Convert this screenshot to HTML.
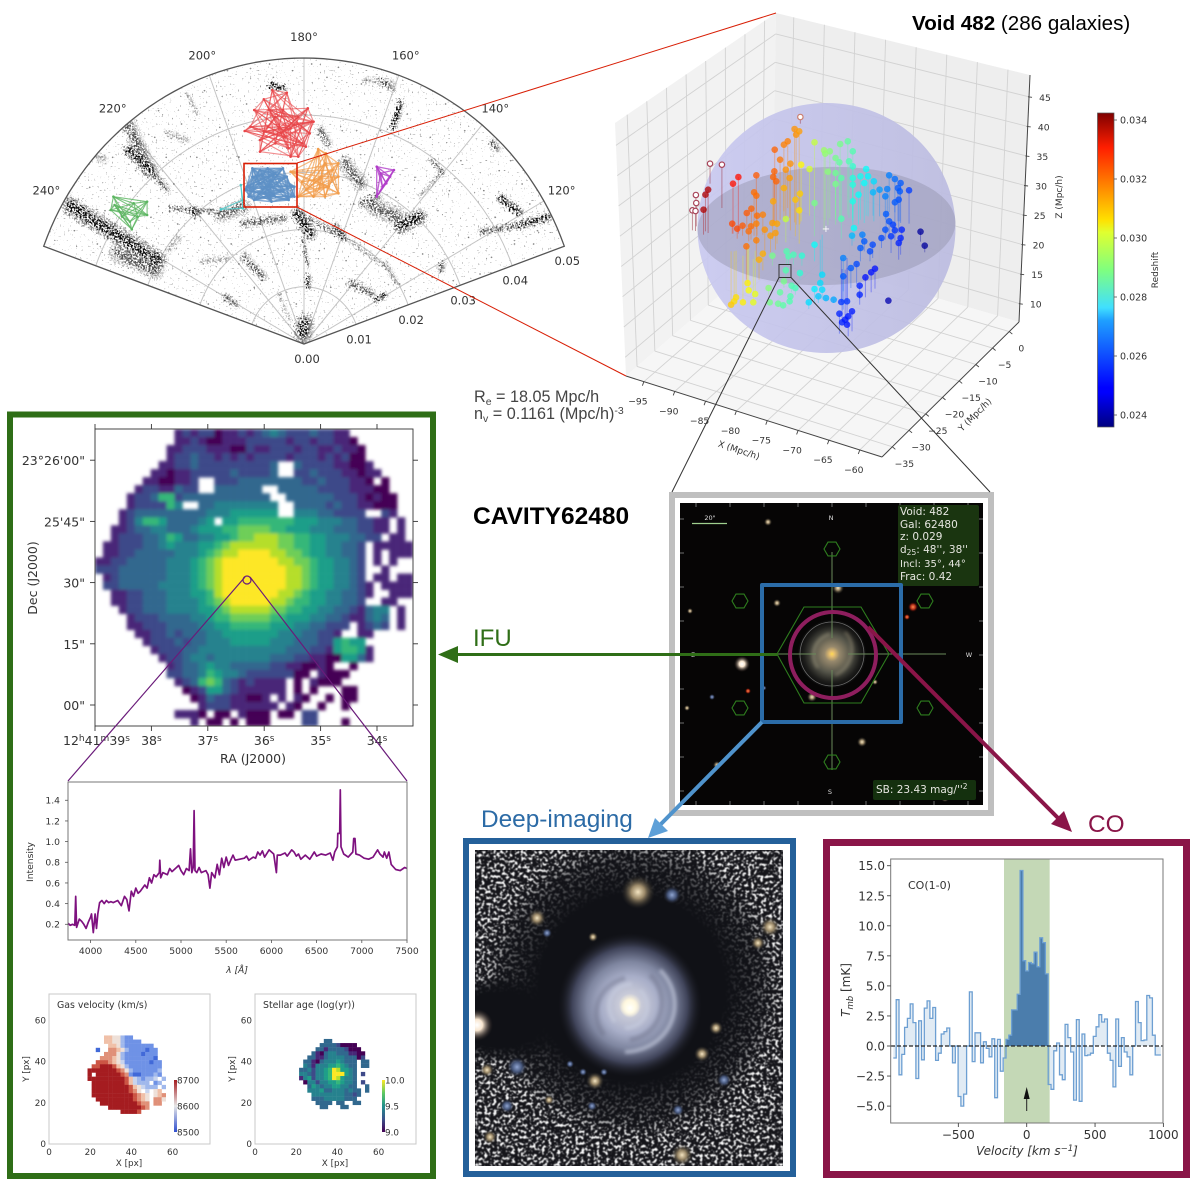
<!DOCTYPE html>
<html lang="en">
<head>
<meta charset="utf-8">
<title>Void 482 CAVITY62480 composite figure</title>
<style>
html,body{margin:0;padding:0;background:#fff;}
svg{display:block;}
text{font-family:"DejaVu Sans",sans-serif;fill:#333;}
</style>
</head>
<body>
<svg id="figure" xmlns="http://www.w3.org/2000/svg" width="1200" height="1190" viewBox="0 0 1200 1190">
<defs>
<linearGradient id="jet-gradient" x1="0" y1="1" x2="0" y2="0">
<stop offset="0" stop-color="#00007f"/><stop offset=".11" stop-color="#0000ff"/><stop offset=".125" stop-color="#0000ff"/><stop offset=".34" stop-color="#1fa0ff"/><stop offset=".38" stop-color="#40dfff"/><stop offset=".5" stop-color="#7fff7f"/><stop offset=".62" stop-color="#e0ff30"/><stop offset=".66" stop-color="#ffe000"/><stop offset=".89" stop-color="#ff1e00"/><stop offset="1" stop-color="#7f0000"/>
</linearGradient>
<linearGradient id="coolwarm-gradient" x1="0" y1="1" x2="0" y2="0">
<stop offset="0" stop-color="#2f4fd0"/><stop offset=".5" stop-color="#e6e6e6"/><stop offset="1" stop-color="#a51c20"/>
</linearGradient>
<linearGradient id="viridis-gradient" x1="0" y1="1" x2="0" y2="0">
<stop offset="0" stop-color="#440154"/><stop offset=".25" stop-color="#3b528b"/><stop offset=".5" stop-color="#21918c"/><stop offset=".75" stop-color="#5ec962"/><stop offset="1" stop-color="#fde725"/>
</linearGradient>
<linearGradient id="sphere-fill" x1="0" y1="0" x2="1" y2="0">
<stop offset="0" stop-color="#c9c9f0"/><stop offset="1" stop-color="#bcbce0"/>
</linearGradient>
<radialGradient id="sdss-galaxy"><stop offset="0" stop-color="#ffdc50"/><stop offset=".07" stop-color="#e8c070"/><stop offset=".22" stop-color="#96886c"/><stop offset=".55" stop-color="#55554a"/><stop offset=".82" stop-color="#1e1e1c"/><stop offset="1" stop-color="#0a0a0a"/></radialGradient>
<radialGradient id="deep-galaxy"><stop offset="0" stop-color="#ffffff"/><stop offset=".07" stop-color="#fff6dc"/><stop offset=".16" stop-color="#c8cad8"/><stop offset=".4" stop-color="#a8aec8"/><stop offset=".6" stop-color="#7f86a0"/><stop offset=".8" stop-color="#40445a"/><stop offset="1" stop-color="#1a1b22" stop-opacity="0"/></radialGradient>
<radialGradient id="deep-nucleus"><stop offset="0" stop-color="#ffffff"/><stop offset=".45" stop-color="#fffbe8"/><stop offset="1" stop-color="#fff6dc" stop-opacity="0"/></radialGradient>
<radialGradient id="dark-hole"><stop offset="0" stop-color="#101116"/><stop offset=".62" stop-color="#101116"/><stop offset=".85" stop-color="#101116" stop-opacity=".65"/><stop offset="1" stop-color="#101116" stop-opacity="0"/></radialGradient>
<radialGradient id="star-tan"><stop offset="0" stop-color="#f4e4c0"/><stop offset=".4" stop-color="#9a8868"/><stop offset="1" stop-color="#2a2824" stop-opacity="0"/></radialGradient>
<radialGradient id="star-blue"><stop offset="0" stop-color="#8fa4d0"/><stop offset=".5" stop-color="#445478"/><stop offset="1" stop-color="#20232e" stop-opacity="0"/></radialGradient>
<radialGradient id="star-white"><stop offset="0" stop-color="#ffffff"/><stop offset=".35" stop-color="#f8e6d0"/><stop offset="1" stop-color="#40302a" stop-opacity="0"/></radialGradient>
<radialGradient id="star-red"><stop offset="0" stop-color="#ff8a50"/><stop offset=".5" stop-color="#b03018"/><stop offset="1" stop-color="#300" stop-opacity="0"/></radialGradient>
<filter id="soft" x="-10%" y="-10%" width="120%" height="120%"><feGaussianBlur stdDeviation="1.5"/></filter>
<filter id="worm" x="0" y="0" width="100%" height="100%" color-interpolation-filters="sRGB">
<feTurbulence type="fractalNoise" baseFrequency="0.33" numOctaves="2" seed="11"/>
<feColorMatrix type="matrix" values="0 0 0 0 1  0 0 0 0 1  0 0 0 0 1  7 0 0 0 -3.6"/>
<feGaussianBlur stdDeviation="0.5"/>
</filter>
<filter id="speckle" x="-5%" y="-5%" width="110%" height="110%" color-interpolation-filters="sRGB">
<feTurbulence type="fractalNoise" baseFrequency="0.55" numOctaves="2" seed="3" result="n"/>
<feDisplacementMap in="SourceGraphic" in2="n" scale="13" xChannelSelector="R" yChannelSelector="G" result="d"/>
<feColorMatrix in="n" type="matrix" values="0 0 0 0 0  0 0 0 0 0  0 0 0 0 0  6 0 0 0 -2.4" result="m"/>
<feComposite in="d" in2="m" operator="in"/>
<feGaussianBlur stdDeviation="0.3"/>
</filter>
<filter id="bg-speck" x="0" y="0" width="100%" height="100%" color-interpolation-filters="sRGB">
<feTurbulence type="fractalNoise" baseFrequency="0.5" numOctaves="2" seed="5" result="n"/>
<feColorMatrix in="n" type="matrix" values="0 0 0 0 0  0 0 0 0 0  0 0 0 0 0  0 16 0 0 -11.3" result="m"/>
<feComposite in="m" in2="SourceAlpha" operator="in"/>
</filter>
<clipPath id="deep-clip"><rect x="475" y="850" width="308" height="316"/></clipPath>
<clipPath id="sdss-clip"><rect x="680" y="503" width="303" height="302"/></clipPath>
<clipPath id="ifu-clip"><rect x="95" y="429" width="318" height="297"/></clipPath>
</defs>

<g id="polar-chart"></g>
<g id="void-3d"></g>
<rect x="244" y="163.5" width="53" height="43.5" fill="none" stroke="#d81e05" stroke-width="1.6"/>
<line x1="297" y1="163" x2="776" y2="13" stroke="#d81e05" stroke-width="1"/>
<line x1="297" y1="207" x2="626" y2="376" stroke="#d81e05" stroke-width="1"/>

<text x="912" y="30" font-size="20.6" style="font-family:'Liberation Sans',sans-serif;fill:#000"><tspan font-weight="bold">Void 482</tspan> (286 galaxies)</text>
<text x="474" y="402" font-size="16.2" style="font-family:'Liberation Sans',sans-serif;fill:#444">R<tspan font-size="10.5" dy="3">e</tspan><tspan dy="-3"> = 18.05 Mpc/h</tspan></text>
<text x="474" y="419" font-size="16.2" style="font-family:'Liberation Sans',sans-serif;fill:#444">n<tspan font-size="10.5" dy="3">v</tspan><tspan dy="-3"> = 0.1161 (Mpc/h)</tspan><tspan font-size="10.5" dy="-5">-3</tspan></text>
<text x="473" y="524" font-size="24.5" font-weight="bold" style="font-family:'Liberation Sans',sans-serif;fill:#000">CAVITY62480</text>
<text x="473" y="646" font-size="24" style="font-family:'Liberation Sans',sans-serif;fill:#2f6e17">IFU</text>
<text x="481" y="827" font-size="24.4" style="font-family:'Liberation Sans',sans-serif;fill:#2c6ba6">Deep-imaging</text>
<text x="1088" y="832" font-size="24.4" style="font-family:'Liberation Sans',sans-serif;fill:#8a1548">CO</text>

<!-- IFU panel -->
<rect x="10" y="414.5" width="423" height="761.5" fill="none" stroke="#2f6e17" stroke-width="6"/>
<g id="ifu-map"></g>
<g id="spectrum-chart"></g>
<g id="gas-map"></g>
<g id="age-map"></g>
<circle cx="247" cy="580" r="4" fill="none" stroke="#6a1b7a" stroke-width="1.2"/>
<line x1="245" y1="577" x2="68" y2="781" stroke="#6a1b7a" stroke-width="1.2"/>
<line x1="250" y1="577" x2="407" y2="781" stroke="#6a1b7a" stroke-width="1.2"/>

<!-- SDSS panel -->
<rect x="672" y="495" width="319" height="318" fill="none" stroke="#bfbfbf" stroke-width="6"/>
<g clip-path="url(#sdss-clip)">
<rect x="680" y="503" width="303" height="302" fill="#060505"/>
<g id="sdss-stars"></g>
<circle cx="832" cy="654" r="34" fill="url(#sdss-galaxy)"/>
<path d="M845 632 C858 645 852 668 835 675 M818 668 C808 655 815 638 830 634" fill="none" stroke="#b4a88a" stroke-width="3" opacity=".4" filter="url(#soft)"/>
<circle cx="832" cy="654" r="32" fill="none" stroke="#6d6d6d" stroke-width=".8"/>
<line x1="832" y1="552" x2="832" y2="638" stroke="#6a8a5a" stroke-width="1"/>
<line x1="832" y1="670" x2="832" y2="770" stroke="#6a8a5a" stroke-width="1"/>
<line x1="848" y1="654" x2="946" y2="654" stroke="#6a8a5a" stroke-width="1"/>
<line x1="693" y1="654" x2="816" y2="654" stroke="#6a8a5a" stroke-width="1"/>
<polygon points="777,654 804,607 861,607 889,654 861,703 804,703" fill="none" stroke="#2e7d1e" stroke-width="1.1"/>
<g id="sdss-hexes"></g>
<rect x="898" y="505" width="81" height="81" rx="2" fill="#1a3510"/>
<rect x="873" y="780" width="103" height="20" rx="2" fill="#14300e"/>
<text x="900" y="515" font-size="10.5" style="fill:#e6e6e0">Void: 482</text>
<text x="900" y="528" font-size="10.5" style="fill:#e6e6e0">Gal: 62480</text>
<text x="900" y="540" font-size="10.5" style="fill:#e6e6e0">z: 0.029</text>
<text x="900" y="553" font-size="10.5" style="fill:#e6e6e0">d<tspan font-size="7.5" dy="2">25</tspan><tspan dy="-2">: 48'', 38''</tspan></text>
<text x="900" y="567" font-size="10" style="fill:#e6e6e0">Incl: 35°, 44°</text>
<text x="900" y="580" font-size="10.5" style="fill:#e6e6e0">Frac: 0.42</text>
<text x="876" y="793" font-size="10.5" style="fill:#e6e6e0">SB: 23.43 mag/''<tspan font-size="7.5" dy="-4">2</tspan></text>
<line x1="692" y1="523.5" x2="727" y2="523.5" stroke="#9fd08f" stroke-width="1.2"/>
<text x="710" y="520" font-size="6.5" text-anchor="middle" style="fill:#ddd">20"</text>
<text x="831" y="520" font-size="6.5" text-anchor="middle" style="fill:#ddd">N</text>
<text x="830" y="794" font-size="6.5" text-anchor="middle" style="fill:#ddd">S</text>
<text x="969" y="657" font-size="6.5" text-anchor="middle" style="fill:#ddd">W</text>
<text x="693" y="657" font-size="6.5" text-anchor="middle" style="fill:#ddd">E</text>
</g>
<rect x="762" y="585" width="139" height="137" fill="none" stroke="#2b6ca8" stroke-width="4" stroke-linejoin="round"/>
<circle cx="833" cy="655" r="43" fill="none" stroke="#8e1e5e" stroke-width="4"/>

<!-- connectors -->
<rect x="779" y="264.5" width="12" height="13" fill="none" stroke="#333" stroke-width="1"/>
<line x1="779" y1="277.5" x2="672" y2="492" stroke="#333" stroke-width="1"/>
<line x1="791" y1="277.5" x2="990" y2="492" stroke="#333" stroke-width="1"/>
<line x1="778" y1="654.5" x2="455" y2="654.5" stroke="#2f6e17" stroke-width="3"/>
<polygon points="438,654.5 458,646 458,663" fill="#2f6e17"/>
<line x1="762" y1="722" x2="657" y2="828" stroke="#4f93cc" stroke-width="4"/>
<polygon points="648,838 655,818 668,831" fill="#5ea0d8"/>
<line x1="868" y1="627" x2="1060" y2="820" stroke="#8a1548" stroke-width="4"/>
<polygon points="1072,832 1051,824 1064,811" fill="#8a1548"/>

<!-- deep imaging panel -->
<rect x="466" y="841" width="327" height="333" fill="none" stroke="#24609a" stroke-width="6"/>
<g clip-path="url(#deep-clip)">
<rect x="475" y="850" width="308" height="316" fill="#15151a"/>
<rect x="475" y="850" width="308" height="316" filter="url(#worm)"/>
<ellipse cx="632" cy="988" rx="150" ry="150" fill="url(#dark-hole)"/>
<ellipse cx="500" cy="1020" rx="70" ry="44" fill="url(#dark-hole)"/>
<g id="deep-stars"></g>
<circle cx="630" cy="1005" r="72" fill="url(#deep-galaxy)"/>
<path d="M650 975 C672 995 662 1035 630 1040 M604 1035 C588 1015 598 985 625 978" fill="none" stroke="#6a6e86" stroke-width="5" opacity=".4" filter="url(#soft)"/>
<path d="M640 990 C655 1005 645 1028 625 1028 M615 1022 C602 1005 612 985 632 984 M660 970 C690 1000 672 1050 625 1052" fill="none" stroke="#c8cee0" stroke-width="4" opacity=".6" filter="url(#soft)"/>
<circle cx="630" cy="1008" r="10" fill="url(#deep-nucleus)"/>
</g>

<!-- CO panel -->
<rect x="826.5" y="842.5" width="360" height="332" fill="none" stroke="#8a1548" stroke-width="7"/>
<g id="co-chart"></g>

<script>
/* ---------- polar cone diagram data ---------- */
var raTicks = [120, 140, 160, 180, 200, 220, 240];
var zTicks = [0, 0.01, 0.02, 0.03, 0.04, 0.05];
var coneU = [-600,-560,-540,-500,-470,-430,-420,-400,-380,-360,-340,-320,-300,-280,-260,-250,-240,-220,-200,-190,-170,-150,-130,-110,-90,-70,-60,-40,-30,-20,20,40,60,70,90,100,110,130,150,160,180,200,210,230,250,270,290,310,330,350,370,390,410,430,450,470,490,510,530,550,570,590,610,630,-610,-580,-520,-440,-390,-330,-270,-210,-170,-120,-80,-10,10,120,175,240,285,335,380,420,460,500,540,600];
var coneV = [340,470,300,560,640,300,170,380,700,560,480,660,220,560,760,120,460,650,820,300,560,720,170,320,840,240,150,300,820,120,840,280,800,170,830,640,250,420,780,330,150,640,290,560,180,690,500,270,620,400,720,190,550,320,680,460,260,520,620,300,480,420,340,430,420,520,400,520,620,360,320,200,240,280,800,640,520,720,500,440,330,200,460,640,210,380,550,300];
var filU0 = [-605,-465,-455,-395,-620,-485,-345,-290,-155,-215,-15,5,105,110,255,165,255,185,515,570,465,335,305,5,13,-205,125,190,-155,-265,-350,-85,45,495,365,85,0,155,-535,-355,-305,205,-65,215];
var filV0 = [412,682,582,517,442,272,407,402,362,387,392,382,322,542,722,792,352,412,437,357,337,552,442,62,202,142,182,132,262,247,282,777,642,602,242,352,317,422,562,632,752,792,152,242];
var filU1 = [-380,-400,-400,-355,-580,-385,-235,-280,-50,-155,20,105,215,150,235,235,305,245,565,640,570,365,365,0,13,-175,180,215,-105,-195,-325,-50,65,505,360,105,13,195,-520,-305,-275,235,-35,245];
var filV1 = [252,522,522,462,392,222,397,392,377,412,332,322,232,482,647,782,382,382,397,382,357,512,522,32,172,117,152,147,202,257,317,767,602,587,222,322,232,442,552,612,692,762,72,182];
var filWidth = [30,25,20,12,14,30,10,16,15,25,22,10,8,25,12,12,25,30,15,15,12,8,8,30,10,12,15,10,15,10,12,12,15,15,12,15,6,14,15,12,8,10,6,10];
var filDensity = [2,1,2,1,0,1,1,2,1,1,2,1,0,1,2,0,2,1,2,2,1,1,0,2,2,1,1,2,1,0,0,2,1,1,1,1,1,1,0,0,0,1,0,0];
var redNetU = [-83,-45,-105,-130,10,25,-155,-140,-95,-60,-25,15,20,-115,-115,-75,-40,-5,-35,-15,5,-50,-75,-15,-90,-55,-105,-35];
var redNetV = [762,754,734,702,707,667,639,652,652,632,657,632,667,612,577,602,587,602,562,562,592,622,682,682,702,702,637,647];
var blueNetU = [-135,-95,-55,-150,-145,-130,-85,-25,-25,-115,-75,-105,-55,-135,-45,-95,-75,-115,-155,-40];
var blueNetV = [527,527,527,472,442,432,427,442,472,482,512,452,457,502,502,472,442,522,462,432];
var orangeNetU = [37,57,55,90,90,90,-15,-5,-35,25,55,45,25,65,5,75,40];
var orangeNetV = [585,572,542,542,502,452,442,487,517,442,442,502,492,472,462,522,467];
var greenNetU = [-498,-505,-450,-410,-410,-495,-475,-445,-435,-455];
var greenNetV = [442,402,344,427,387,417,382,422,382,367];
var magentaNetU = [190,235,225,190,205,200,215];
var magentaNetV = [532,522,502,442,472,512,482];
var cyanNetU = [-217,-160,-165,-160];
var cyanNetV = [404,432,477,407];

/* ---------- 3D void data ---------- */
var xTicks3d = [-95,-90,-85,-80,-75,-70,-65,-60];
var yTicks3d = [-35,-30,-25,-20,-15,-10,-5,0];
var zTicks3d = [10,15,20,25,30,35,40,45];
var colorbarTicks = [0.024,0.026,0.028,0.030,0.032,0.034];
/* galaxy offsets from the void centre on the view plane, redshift and stem length */
var voidU = [-308,-315,-320,-243,-229,
-134,-182,-135,-138,-130,-120,-110,-100,-82,-78,-70,-93,-105,-95,
-188,-182,-207,-195,-180,-165,-245,-232,-218,-196,-202,-182,-160,-140,-128,-132,-145,-182,-208,
-110,-138,-80,-68,-70,-165,-175,-65,-43,
-30,-5,10,-2,37,57,70,25,35,60,70,5,25,40,-30,-105,40,25,
70,105,90,110,100,125,70,85,70,73,
165,180,195,188,193,217,160,140,123,155,190,180,157,165,175,180,198,155,68,95,100,90,122,115,145,170,195,190,
247,258,163,
128,118,103,88,88,65,80,45,45,55,40,68,35,58,42,55,50,
-30,-10,-15,-10,-30,-45,-20,0,20,
-103,-98,-85,-63,-140,-105,-68,-110,-90,-80,-150,-120,-93,-95,-125,-112,-147,
-205,-185,-235,-240,-248,-217,-190,-202];
var voidV = [115,100,55,133,153,
235,158,170,153,140,205,250,260,297,280,290,193,175,150,
107,97,45,58,37,40,13,-2,7,5,-10,13,-5,15,13,-15,-23,-37,-55,
120,80,85,103,53,-77,-95,190,177,
257,233,230,223,252,260,230,210,197,200,185,169,165,150,75,27,28,132,
150,177,155,155,135,140,130,100,80,0,
158,147,135,120,110,113,117,115,107,95,85,77,42,20,10,-7,-5,-5,-23,-20,-40,-60,-50,-70,-30,-25,-30,-45,
-11,-53,-218,
-122,-133,-148,-173,-200,-120,-108,-90,-145,-220,-222,-250,-257,-265,-283,-290,-275,
-50,-140,-165,-185,-183,-223,-205,-210,-215,
-70,-85,-80,-83,-83,-127,-135,-160,-173,-180,-180,-193,-205,-220,-227,-232,-223,
-165,-198,-208,-220,-230,-223,-223,-187];
var voidRedshift = [0.0338,0.0338,0.0338,0.0328,0.0328,
0.0319,0.0320,0.0319,0.0319,0.0319,0.0317,0.0316,0.0316,0.0314,0.0314,0.0313,0.0314,0.0314,0.0313,
0.0318,0.0318,0.0320,0.0319,0.0318,0.0316,0.0322,0.0322,0.0320,0.0318,0.0318,0.0316,0.0314,0.0313,0.0312,0.0313,0.0313,0.0316,0.0318,
0.0311,0.0312,0.0309,0.0308,0.0306,0.0311,0.0311,0.0303,0.0298,
0.0296,0.0292,0.0290,0.0291,0.0288,0.0286,0.0284,0.0288,0.0286,0.0284,0.0281,0.0290,0.0287,0.0285,0.0288,0.0296,0.0284,0.0288,
0.0279,0.0276,0.0277,0.0275,0.0276,0.0272,0.0279,0.0276,0.0278,0.0276,
0.0262,0.0260,0.0258,0.0258,0.0258,0.0255,0.0262,0.0265,0.0268,0.0262,0.0257,0.0258,0.0258,0.0257,0.0255,0.0254,0.0252,0.0257,0.0268,0.0262,0.0258,0.0258,0.0256,0.0256,0.0256,0.0254,0.0252,0.0252,
0.0238,0.0238,0.0240,
0.0250,0.0250,0.0250,0.0252,0.0252,0.0258,0.0256,0.0262,0.0258,0.0254,0.0254,0.0251,0.0252,0.0251,0.0252,0.0251,0.0251,
0.0276,0.0272,0.0272,0.0272,0.0274,0.0272,0.0270,0.0268,0.0266,
0.0284,0.0284,0.0283,0.0280,0.0288,0.0284,0.0280,0.0288,0.0284,0.0283,0.0290,0.0286,0.0284,0.0284,0.0287,0.0285,0.0288,
0.0304,0.0300,0.0306,0.0306,0.0308,0.0304,0.0300,0.0302];
var voidDrop = [130,110,75,150,170,
150,130,160,140,130,180,200,200,280,270,280,200,150,120,
130,100,50,60,60,60,30,30,30,40,30,60,80,50,60,50,50,60,100,
100,60,110,90,100,50,60,170,140,
200,240,200,200,220,220,180,200,180,170,160,160,140,120,100,70,60,100,
130,140,130,120,120,120,100,90,70,40,
110,100,120,100,90,100,80,80,70,70,100,90,60,50,40,30,40,30,30,40,30,40,40,30,30,50,50,50,
30,20,0,
60,60,60,40,30,60,60,100,100,-130,-130,60,60,60,-160,-170,-150,
50,-120,-130,30,40,20,20,10,10,
40,30,30,30,30,20,20,20,20,20,20,10,10,10,10,10,10,
-120,-130,-140,-150,-160,-140,-130,-130];
var ringU = [-303,-272,-340,-339,-349,-341,-67];
var ringV = [193,190,99,75,53,51,333];
var ringDrop = [60,130,50,70,60,60,20];

/* ---------- IFU flux map (viridis level per spaxel, "." = no data) ---------- */
var ifuRows = [
"..........1212201121234322232211........",
"..........11210011122222122122110.......",
".........1122211100211222122112110......",
".........1223221212122221222121200......",
"........112232222222223..3222211001.....",
".......1101122222322223..22322211011....",
"......1100112..22233333333223222110.0...",
".....12211322..333333..33333222211100...",
"....122366233333333333..33333322210100..",
"....1222264..3344444444..3333232211000..",
"...12333333333444555555..444332222..21..",
"...124665333345.556666666555444332211.1.",
"..11233443334555667777665554443332211.1.",
"..1222334653344556778887766554443322.11.",
".112223345444556788888877665544332.11111",
".112233333444567889999887765544332.1.111",
"1122333334445678999999988776554432.1.1..",
"2223333334445678999999998876554432..1...",
".123333334445678999999998876554432.11.11",
".2233333444456789999999988765544321.1111",
"..112233344455689999999887655443321..111",
"..11223334444567899999887665544332..11..",
"...1223334444556788888776655443321344.1.",
"....122233334456677777665554433211343.1.",
"....1122233334455666665554433222.1232.1.",
".....11223233344555555544433221..11.....",
"......1222323344455555444333225655......",
".......1222334444444444433322156651.....",
"........122344344444443332211005531.....",
".........123345443333322110010..0.......",
".........223346544322222200.1000........",
"..........12367632121111.0.1000.........",
"...........0125532111111.0.0...00.......",
"............0132211001.1.10..0.00.......",
".............1222111111.10..0..0........",
"..........1110.00.1000.00.22............",
"............1.00.0.000....22...0........"
];

/* ---------- optical spectrum data ---------- */
var specWave = [3750,3775,3800,3825,3835,3845,3875,3900,3925,3950,3975,4000,4010,4030,4050,4065,4080,4100,4125,4150,4175,4200,4225,4250,4300,4340,4375,4400,4425,4450,4475,4500,4525,4550,4600,4625,4650,4675,4700,4725,4760,4765,4775,4800,4850,4875,4900,4950,4975,5000,5030,5060,5090,5105,5120,5135,5145,5155,5175,5200,5225,5275,5300,5320,5340,5375,5400,5425,5450,5475,5500,5525,5550,5575,5600,5650,5700,5725,5750,5800,5825,5850,5875,5900,5925,5975,6025,6055,6065,6100,6150,6175,6225,6250,6275,6300,6325,6375,6425,6475,6500,6550,6600,6650,6680,6700,6730,6735,6755,6762,6770,6800,6850,6900,6910,6925,6935,6975,7025,7075,7125,7175,7200,7235,7250,7275,7300,7325,7375,7425,7475,7500];
var specFlux = [0.21,0.19,0.20,0.19,0.47,0.17,0.25,0.23,0.20,0.16,0.22,0.27,0.30,0.12,0.30,0.16,0.30,0.41,0.43,0.40,0.43,0.41,0.42,0.41,0.43,0.38,0.47,0.44,0.33,0.52,0.47,0.55,0.50,0.52,0.58,0.55,0.65,0.60,0.68,0.66,0.70,0.82,0.65,0.70,0.68,0.74,0.71,0.75,0.77,0.72,0.68,0.74,0.72,0.93,0.70,0.75,1.30,0.72,0.70,0.75,0.70,0.72,0.68,0.55,0.70,0.65,0.78,0.68,0.84,0.75,0.85,0.77,0.82,0.87,0.82,0.83,0.84,0.86,0.82,0.85,0.84,0.90,0.87,0.91,0.85,0.92,0.88,0.70,0.87,0.87,0.89,0.86,0.92,0.90,0.86,0.88,0.83,0.87,0.83,0.90,0.86,0.88,0.87,0.89,0.82,0.90,0.95,1.08,1.08,1.50,0.95,0.88,0.85,0.90,1.03,1.03,0.88,0.87,0.84,0.83,0.85,0.92,0.88,0.85,0.90,0.84,0.90,0.78,0.73,0.72,0.75,0.74];
var specXTicks = [4000,4500,5000,5500,6000,6500,7000,7500];
var specYTicks = [0.2,0.4,0.6,0.8,1.0,1.2,1.4];

/* ---------- kinematic maps (level per spaxel) ---------- */
var gasRows = [
".....6655322........",
".....665532222......",
"......66532222222...",
"...1..776532222122..",
".....7775322221222..",
"....77765322222221..",
"...8887654222222122.",
"..88999865322222222.",
".999999987532222223..",
".9.9999998721122232.",
".99999999986432334.3",
"..99999999864333.23.",
"..9999999998654333.3",
"..999999999875.4.56.",
"..99999999998765.567",
"...9999999998765.775",
"....999999999877.77.",
"......9999999987....",
".........99998......"
];
var ageRows = [
"......33.........",
".....333320000...",
"....33133332000..",
"...3103443331100.",
"..33113444433302.",
".3310344454333.33",
".4314445565433.33",
"33424456985543...",
"44324456999543.2.",
"14524456985443...",
".0442445565443.2.",
"..354344554433..3",
"..4445334443433.3",
"...444444443323..",
"...33344444333...",
"....3333.33..33..",
".....33...33....."
];
var mapTicksX = [0,20,40,60];
var mapTicksY = [0,20,40,60];

/* ---------- CO spectrum data ---------- */
var coTmb = [-1.0,3.85,-2.4,-0.7,1.55,2.3,3.5,1.95,-2.7,2.1,-1.15,3.15,3.75,2.3,3.2,-1.2,-0.6,1.0,1.2,1.5,0.0,-1.4,0.0,-4.2,-5.0,-4.0,0.0,4.5,-1.3,1.1,1.1,-1.4,0.35,-0.2,-0.9,0.6,-4.3,0.55,-2.1,-1.0,0.55,0.9,3.0,3.0,4.3,14.6,7.1,6.25,6.95,6.85,7.8,6.6,9.0,8.6,6.0,-3.2,-3.6,-0.4,0.25,-2.4,-2.8,1.8,0.7,-0.5,-4.5,2.2,-4.6,1.0,-0.8,-0.75,-0.6,0.8,1.6,2.6,2.0,2.25,-0.6,-1.2,-3.4,2.25,-1.7,0.7,-0.5,-0.9,-2.4,0.0,3.7,1.95,0.45,0.5,4.2,4.0,0.9,-0.75,-0.75];
var coVelocityStart = -975.6;
var coChannelWidth = 20.6;
var coBand = [-166, 168];
var coXTicks = [-500,0,500,1000];
var coYTicks = [-5,-2.5,0,2.5,5,7.5,10,12.5,15];

/* ---------- helpers ---------- */
var NS = "http://www.w3.org/2000/svg";
function add(parent, tag, attrs, txt) {
  var e = document.createElementNS(NS, tag);
  for (var k in attrs) e.setAttribute(k, attrs[k]);
  if (txt !== undefined) e.textContent = txt;
  parent.appendChild(e);
  return e;
}
function byId(id) { return document.getElementById(id); }
function minus(s) { return String(s).replace("-", "\u2212"); }
var viridis = ["#440154","#482878","#3e4a89","#31688e","#26828e","#1f9e89","#35b779","#6ece58","#b5de2b","#fde725"];
var coolwarm = ["#2f4fd0","#4169d8","#6f92e6","#a0b8ec","#c8d4ee","#eee0d8","#f0c0a8","#e09078","#cc5544","#a51c20"];
function jet(t) {
  function cl(v) { return Math.max(0, Math.min(1, v)); }
  var r = cl(1.5 - Math.abs(4 * t - 3)), g = cl(1.5 - Math.abs(4 * t - 2)), b = cl(1.5 - Math.abs(4 * t - 1));
  return "rgb(" + Math.round(r * 255) + "," + Math.round(g * 255) + "," + Math.round(b * 255) + ")";
}

/* ---------- polar cone diagram ---------- */
(function () {
  var g = byId("polar-chart");
  function px(ra, z) { return 304 + 277 * (z / 0.05) * Math.sin((180 - ra) * Math.PI / 180); }
  function py(ra, z) { return 344 - 286 * (z / 0.05) * Math.cos((180 - ra) * Math.PI / 180); }
  function cx(u) { return 304 + u * 0.3827; }
  function cy(v) { return 344 - v / 3; }
  function arc(z) {
    var d = "";
    for (var a = 110; a <= 250; a += 2) d += (d ? "L" : "M") + px(a, z).toFixed(1) + " " + py(a, z).toFixed(1);
    return d;
  }
  var wedge = "M304 344L" + arc(0.05).slice(1) + "Z";
  var clip = add(g, "clipPath", { id: "wedge-clip" });
  add(clip, "path", { d: wedge });
  var sparse = add(g, "path", { d: wedge, fill: "#000", filter: "url(#bg-speck)", opacity: 0.4 });
  
  
  var grid = add(g, "g", {});
  zTicks.slice(1, 5).forEach(function (z) {
    var a = add(grid, "path", { d: arc(z), fill: "none", stroke: "#c4c4c4", "stroke-width": 1 });
    
    
  });
  raTicks.forEach(function (ra) {
    var l = add(grid, "line", { x1: 304, y1: 344, x2: px(ra, 0.05), y2: py(ra, 0.05), stroke: "#c4c4c4", "stroke-width": 1 });
    
    
    var t = add(g, "text", { x: px(ra, 0.0537), y: py(ra, 0.0537) + 4, "text-anchor": "middle", "font-size": 11.5 }, ra + "\u00b0");
    
    
  });
  zTicks.forEach(function (z) {
    var t = add(g, "text", { x: px(110, z) + 3, y: py(110, z) + 19, "text-anchor": "middle", "font-size": 11.5 }, z.toFixed(2));
    
    
  });
  var inner = add(g, "g", { "clip-path": "url(#wedge-clip)" });
  var speck = add(inner, "g", { filter: "url(#speckle)" });
  
  
  filU0.forEach(function (u0, i) {
    var shade = add(speck, "line", { x1: cx(u0), y1: cy(filV0[i]), x2: cx(filU1[i]), y2: cy(filV1[i]), stroke: "#000", "stroke-opacity": [0.14, 0.26, 0.42][filDensity[i]], "stroke-width": filWidth[i] * 0.62, "stroke-linecap": "round" });
    
    
    var f = add(speck, "line", { x1: cx(u0), y1: cy(filV0[i]), x2: cx(filU1[i]), y2: cy(filV1[i]), stroke: "#000", "stroke-opacity": [0.3, 0.55, 0.95][filDensity[i]], "stroke-width": filWidth[i] * 0.3, "stroke-linecap": "round" });
    
    
  });
  coneU.forEach(function (u, i) {
    var c = add(inner, "circle", { cx: cx(u), cy: cy(coneV[i]), r: 0.85, fill: "#000", "fill-opacity": 0.45 });
    
    
  });
  var outline = add(g, "path", { d: wedge, fill: "none", stroke: "#555", "stroke-width": 1.3 });
  
  
  function net(us, vs, color, steps, w, op, name) {
    var n = us.length;
    var grp = add(g, "g", {});
    
    
    for (var i = 0; i < n; i++) {
      for (var s = 0; s < steps.length; s++) {
        var j = (i + steps[s]) % n;
        var ln = add(grp, "line", { x1: cx(us[i]), y1: cy(vs[i]), x2: cx(us[j]), y2: cy(vs[j]), stroke: color, "stroke-width": w, "stroke-opacity": op });
        
        
      }
      var d = add(grp, "circle", { cx: cx(us[i]), cy: cy(vs[i]), r: 1.3, fill: color });
      
      
    }
  }
  net(cyanNetU, cyanNetV, "#4fc9c9", [1], 1.1, 0.85, "cyan-void-network");
  net(redNetU, redNetV, "#e8474a", [1, 5, 9, 14], 1.1, 0.62, "red-void-network");
  net(blueNetU, blueNetV, "#5d90c6", [1, 3, 5, 7, 9], 1.5, 0.75, "blue-void-network");
  net(orangeNetU, orangeNetV, "#f29d4b", [1, 3, 5, 7], 1.2, 0.7, "orange-void-network");
  net(greenNetU, greenNetV, "#5bb560", [1, 3, 4], 1.1, 0.8, "green-void-network");
  net(magentaNetU, magentaNetV, "#b23ec9", [1, 2, 3], 1.3, 0.8, "magenta-void-network");
})();

/* ---------- 3D void ---------- */
(function () {
  var g = byId("void-3d");
  var x0 = -97.9, x1 = -56.4, y0 = -38.1, y1 = 2.9, z0 = 6.9, z1 = 48.7;
  var B00 = [626, 376], B10 = [882, 457], B11 = [1019, 322], B01 = [772, 250];
  var T00 = [615, 123], T10 = [869, 185], T11 = [1030, 75], T01 = [776, 13];
  function bil(p00, p10, p11, p01, a, b, k) {
    return (1 - a) * (1 - b) * p00[k] + a * (1 - b) * p10[k] + a * b * p11[k] + (1 - a) * b * p01[k];
  }
  function project(x, y, z) {
    var a = (x - x0) / (x1 - x0), b = (y - y0) / (y1 - y0), c = (z - z0) / (z1 - z0);
    return [
      (1 - c) * bil(B00, B10, B11, B01, a, b, 0) + c * bil(T00, T10, T11, T01, a, b, 0),
      (1 - c) * bil(B00, B10, B11, B01, a, b, 1) + c * bil(T00, T10, T11, T01, a, b, 1)
    ];
  }
  function poly(pts, fill, name) {
    var p = add(g, "polygon", { points: pts.map(function (q) { return q.join(","); }).join(" "), fill: fill });
    
    
  }
  poly([B00, B01, T01, T00], "#f2f2f2", "left-wall-pane");
  poly([B01, B11, T11, T01], "#eeeeee", "right-wall-pane");
  poly([B00, B10, B11, B01], "#f6f6f6", "floor-pane");
  function grid(a, b) {
    var l = add(g, "line", { x1: a[0], y1: a[1], x2: b[0], y2: b[1], stroke: "#d2d2d2", "stroke-width": 0.9 });
    
    
  }
  zTicks3d.forEach(function (z) {
    grid(project(x0, y0, z), project(x0, y1, z));
    grid(project(x0, y1, z), project(x1, y1, z));
  });
  xTicks3d.forEach(function (x) {
    grid(project(x, y1, z0), project(x, y1, z1));
    grid(project(x, y0, z0), project(x, y1, z0));
  });
  yTicks3d.forEach(function (y) {
    grid(project(x0, y, z0), project(x0, y, z1));
    grid(project(x0, y, z0), project(x1, y, z0));
  });
  function axis(a, b, name) {
    var l = add(g, "line", { x1: a[0], y1: a[1], x2: b[0], y2: b[1], stroke: "#444", "stroke-width": 1 });
    
    
  }
  axis(B00, B10, "x-axis-line");
  axis(B10, B11, "y-axis-line");
  axis(B11, T11, "z-axis-line");
  function tickLabel(p, dx, dy, str, name) {
    var t = add(g, "text", { x: p[0] + dx, y: p[1] + dy + 3, "text-anchor": "middle", "font-size": 9.2 }, str);
    
    
  }
  xTicks3d.forEach(function (x) {
    var p = project(x, y0, z0);
    var m = add(g, "line", { x1: p[0], y1: p[1], x2: p[0] - 1.5, y2: p[1] + 4, stroke: "#444", "stroke-width": 0.9 });
    
    
    tickLabel(p, -6, 20, minus(x), "x-tick-label");
  });
  yTicks3d.forEach(function (y) {
    var p = project(x1, y, z0);
    var m = add(g, "line", { x1: p[0], y1: p[1], x2: p[0] + 3, y2: p[1] + 2.5, stroke: "#444", "stroke-width": 0.9 });
    
    
    tickLabel(p, 12, 17, minus(y), "y-tick-label");
  });
  zTicks3d.forEach(function (z) {
    var p = project(x1, y1, z);
    var m = add(g, "line", { x1: p[0] - 1, y1: p[1], x2: p[0] + 3, y2: p[1] + 0.5, stroke: "#444", "stroke-width": 0.9 });
    
    
    tickLabel(p, 16, 1, String(z), "z-tick-label");
  });
  var lx = add(g, "text", { transform: "translate(738 453) rotate(18)", "text-anchor": "middle", "font-size": 9 }, "X (Mpc/h)");
  
  
  var ly = add(g, "text", { transform: "translate(977 417) rotate(-45)", "text-anchor": "middle", "font-size": 9 }, "Y (Mpc/h)");
  
  
  var lz = add(g, "text", { transform: "translate(1062 197) rotate(-90)", "text-anchor": "middle", "font-size": 9 }, "Z (Mpc/h)");
  
  

  var sphere = add(g, "ellipse", { cx: 826.5, cy: 228, rx: 129, ry: 125, fill: "url(#sphere-fill)", "fill-opacity": 0.92 });
  
  
  var eq = add(g, "ellipse", { cx: 826.5, cy: 226, rx: 129, ry: 59, transform: "rotate(-2 826.5 226)", fill: "#8f8fa8", "fill-opacity": 0.42 });
  
  

  function sx(u) { return 826 + u * 0.3827; }
  function sy(v) { return 228 - v / 3; }
  function zColor(z) { return jet((z - 0.0235) / (0.0343 - 0.0235)); }
  voidU.forEach(function (u, i) {
    var col = zColor(voidRedshift[i]);
    if (voidDrop[i] !== 0) {
      var s = add(g, "line", { x1: sx(u), y1: sy(voidV[i]), x2: sx(u), y2: sy(voidV[i] - voidDrop[i]), stroke: col, "stroke-width": 1, "stroke-opacity": 0.35 });
      
      
    }
  });
  voidU.forEach(function (u, i) {
    var c = add(g, "circle", { cx: sx(u), cy: sy(voidV[i]), r: 3.3, fill: zColor(voidRedshift[i]), "fill-opacity": 0.76 });
    
    
  });
  ringU.forEach(function (u, i) {
    var s = add(g, "line", { x1: sx(u), y1: sy(ringV[i]), x2: sx(u), y2: sy(ringV[i] - ringDrop[i]), stroke: "#a04050", "stroke-width": 1, "stroke-opacity": 0.55 });
    
    
    var c = add(g, "circle", { cx: sx(u), cy: sy(ringV[i]), r: 2.7, fill: "#fff", stroke: i === 6 ? "#cc7f6f" : "#a8455a", "stroke-width": 1.2 });
    
    
  });
  var plus = add(g, "text", { x: 826, y: 232, "text-anchor": "middle", "font-size": 10, style: "fill:#fff" }, "+");
  
  

  var bar = add(g, "rect", { x: 1097.5, y: 113, width: 16.5, height: 314, fill: "url(#jet-gradient)", stroke: "#555", "stroke-width": 0.7 });
  
  
  colorbarTicks.forEach(function (z) {
    var y = 415 - (z - 0.024) / 0.002 * 59;
    var t = add(g, "text", { x: 1120, y: y + 3.5, "font-size": 9.5 }, z.toFixed(3));
    
    
    var m = add(g, "line", { x1: 1114, y1: y, x2: 1117, y2: y, stroke: "#555", "stroke-width": 0.8 });
    
    
  });
  var cbl = add(g, "text", { transform: "translate(1158 270) rotate(-90)", "text-anchor": "middle", "font-size": 9 }, "Redshift");
  
  
})();

/* ---------- IFU map ---------- */
(function () {
  var g = byId("ifu-map");
  var cells = add(g, "g", { filter: "url(#soft)", "clip-path": "url(#ifu-clip)" });
  
  
  var cs = 7.95, rs = 8.03;
  ifuRows.forEach(function (row, r) {
    for (var c = 0; c < row.length; c++) {
      var ch = row.charAt(c);
      if (ch === ".") continue;
      var e = add(cells, "rect", { x: 95 + c * cs, y: 429 + r * rs, width: cs + 0.3, height: rs + 0.3, fill: viridis[+ch] });
      
      
    }
  });
  var frame = add(g, "rect", { x: 95, y: 429, width: 318, height: 297, fill: "none", stroke: "#333", "stroke-width": 0.9 });
  
  
  var raSeconds = [39, 38, 37, 36, 35, 34];
  var decSeconds = [60, 45, 30, 15, 0];
  var decLabels = ["23\u00b026'00\"", "25'45\"", "30\"", "15\"", "00\""];
  function rx(s) { return 95 + (39 - s) * 56.4; }
  raSeconds.forEach(function (s) {
    [[429, 424], [726, 731]].forEach(function (yy) {
      var m = add(g, "line", { x1: rx(s), x2: rx(s), y1: yy[0], y2: yy[1], stroke: "#333", "stroke-width": 0.9 });
      
      
    });
    var t = add(g, "text", { x: rx(s) + (s === 39 ? -32 : 0), y: 745, "font-size": 12.5, "text-anchor": s === 39 ? "start" : "middle" });
    
    
    if (s === 39) {
      t.appendChild(document.createTextNode("12"));
      add(t, "tspan", { "font-size": 9, dy: -4 }, "h");
      add(t, "tspan", { dy: 4 }, "41");
      add(t, "tspan", { "font-size": 9, dy: -4 }, "m");
      add(t, "tspan", { dy: 4 }, "39");
      add(t, "tspan", { "font-size": 9, dy: -4 }, "s");
    } else {
      t.appendChild(document.createTextNode(String(s)));
      add(t, "tspan", { "font-size": 9, dy: -4 }, "s");
    }
  });
  decSeconds.forEach(function (d, i) {
    var y = 705 - d * (61.2 / 15);
    [[95, 90], [413, 418]].forEach(function (xx) {
      var m = add(g, "line", { x1: xx[0], x2: xx[1], y1: y, y2: y, stroke: "#333", "stroke-width": 0.9 });
      
      
    });
    var t = add(g, "text", { x: 85, y: y + 5, "font-size": 12.5, "text-anchor": "end" }, decLabels[i]);
    
    
  });
  var xl = add(g, "text", { x: 253, y: 763, "font-size": 12.5, "text-anchor": "middle" }, "RA (J2000)");
  
  
  var yl = add(g, "text", { transform: "translate(37 578) rotate(-90)", "font-size": 12.5, "text-anchor": "middle" }, "Dec (J2000)");
  
  
})();

/* ---------- optical spectrum ---------- */
(function () {
  var g = byId("spectrum-chart");
  function x(w) { return 68 + (w - 3750) / 3750 * 339; }
  function y(f) { return 924.3 - (f - 0.2) / 0.2 * 20.67; }
  var d = "";
  specWave.forEach(function (w, i) { d += (i ? "L" : "M") + x(w).toFixed(1) + " " + y(specFlux[i]).toFixed(1); });
  var line = add(g, "path", { d: d, fill: "none", stroke: "#7e117f", "stroke-width": 1.7, "stroke-linejoin": "round" });
  
  
  var frame = add(g, "rect", { x: 68, y: 782, width: 339, height: 158, fill: "none", stroke: "#777", "stroke-width": 1 });
  
  
  specXTicks.forEach(function (w) {
    var m = add(g, "line", { x1: x(w), x2: x(w), y1: 940, y2: 943, stroke: "#555", "stroke-width": 0.8 });
    
    
    var t = add(g, "text", { x: x(w), y: 954, "font-size": 9.2, "text-anchor": "middle" }, String(w));
    
    
  });
  specYTicks.forEach(function (f) {
    var m = add(g, "line", { x1: 65, x2: 68, y1: y(f), y2: y(f), stroke: "#555", "stroke-width": 0.8 });
    
    
    var t = add(g, "text", { x: 60, y: y(f) + 3.3, "font-size": 9.2, "text-anchor": "end" }, f.toFixed(1));
    
    
  });
  var xl = add(g, "text", { x: 237, y: 973, "font-size": 9.2, "text-anchor": "middle", "font-style": "italic" }, "\u03bb [\u00c5]");
  
  
  var yl = add(g, "text", { transform: "translate(33 862) rotate(-90)", "font-size": 9.2, "text-anchor": "middle" }, "Intensity");
  
  
})();

/* ---------- kinematic maps ---------- */
function drawMap(g, rows, palette, left, xStart, yTop, title, ylab, cbX, cbFill, cbLabels) {
  var sc = 2.06;
  function x(u) { return left + u * sc; }
  function y(v) { return 1144 - v * sc; }
  rows.forEach(function (row, r) {
    for (var c = 0; c < row.length; c++) {
      var ch = row.charAt(c);
      if (ch === ".") continue;
      var e = add(g, "rect", { x: x(xStart + 2 * c), y: y(yTop - 2 * r), width: 2 * sc + 0.2, height: 2 * sc + 0.2, fill: palette[+ch] });
      
      
    }
  });
  var frame = add(g, "rect", { x: left, y: 994, width: 161, height: 150, fill: "none", stroke: "#c8c8c8", "stroke-width": 1 });
  
  
  mapTicksX.forEach(function (u) {
    var t = add(g, "text", { x: x(u), y: 1155, "font-size": 8.8, "text-anchor": "middle" }, String(u));
    
    
  });
  mapTicksY.forEach(function (v) {
    var t = add(g, "text", { x: left - 3, y: y(v) + 3, "font-size": 8.8, "text-anchor": "end" }, String(v));
    
    
  });
  var tt = add(g, "text", { x: left + 8, y: 1008, "font-size": 9.4 }, title);
  
  
  var xl = add(g, "text", { x: left + 80, y: 1166, "font-size": 8.8, "text-anchor": "middle" }, "X [px]");
  
  
  var yl = add(g, "text", { transform: "translate(" + (left - 20) + " 1069) rotate(-90)", "font-size": 8.8, "text-anchor": "middle" }, ylab);
  
  
  var bar = add(g, "rect", { x: cbX, y: 1080, width: 3, height: 52, fill: cbFill });
  
  
  cbLabels.forEach(function (lab, i) {
    var t = add(g, "text", { x: cbX + 3, y: 1083.5 + i * 26, "font-size": 8.8 }, lab);
    
    
  });
}
drawMap(byId("gas-map"), gasRows, coolwarm, 49, 16.7, 52.7, "Gas velocity (km/s)", "Y [px]", 174, "url(#coolwarm-gradient)", ["8700", "8600", "8500"]);
drawMap(byId("age-map"), ageRows, viridis, 255, 21.4, 51, "Stellar age (log(yr))", "Y [px]", 382, "url(#viridis-gradient)", ["10.0", "9.5", "9.0"]);

/* ---------- CO spectrum ---------- */
(function () {
  var g = byId("co-chart");
  function x(v) { return 1026.7 + v * 0.1367; }
  function y(t) { return 1046 - t * 12.02; }
  var band = add(g, "rect", { x: x(coBand[0]), y: 859, width: x(coBand[1]) - x(coBand[0]), height: 264, fill: "#c4d8b6" });
  
  
  var d = "M" + x(coVelocityStart) + " " + y(0);
  coTmb.forEach(function (t, i) {
    var a = coVelocityStart + i * coChannelWidth;
    d += "L" + x(a).toFixed(1) + " " + y(t).toFixed(1) + "L" + x(a + coChannelWidth).toFixed(1) + " " + y(t).toFixed(1);
  });
  var stepOnly = d.replace(/^M[^L]*L/, "M");
  var fill = add(g, "path", { d: d + "L" + x(coVelocityStart + coTmb.length * coChannelWidth) + " " + y(0) + "Z", fill: "#5b8ec2", "fill-opacity": 0.18 });
  
  
  var clip = add(g, "clipPath", { id: "co-line-clip" });
  add(clip, "rect", { x: x(coBand[0]), y: 859, width: x(coBand[1]) - x(coBand[0]), height: y(0) - 859 });
  var dark = add(g, "path", { d: d + "L" + x(coVelocityStart + coTmb.length * coChannelWidth) + " " + y(0) + "Z", fill: "#4b7dac", "clip-path": "url(#co-line-clip)" });
  
  
  var step = add(g, "path", { d: stepOnly, fill: "none", stroke: "#6d9fd2", "stroke-width": 1.3 });
  
  
  var zero = add(g, "line", { x1: 891, x2: 1163, y1: y(0), y2: y(0), stroke: "#222", "stroke-width": 1.2, "stroke-dasharray": "4 2" });
  
  
  var shaft = add(g, "line", { x1: x(0), x2: x(0), y1: 1111, y2: 1096, stroke: "#222", "stroke-width": 1 });
  
  
  var head = add(g, "polygon", { points: [x(0), 1087, x(0) - 3, 1099, x(0) + 3, 1099].join(" "), fill: "#111" });
  
  
  var frame = add(g, "rect", { x: 890.7, y: 859, width: 272.3, height: 264, fill: "none", stroke: "#777", "stroke-width": 1 });
  
  
  coXTicks.forEach(function (v) {
    var m = add(g, "line", { x1: x(v), x2: x(v), y1: 1123, y2: 1127, stroke: "#444", "stroke-width": 0.9 });
    
    
    var t = add(g, "text", { x: x(v), y: 1139, "font-size": 12, "text-anchor": "middle" }, minus(v));
    
    
  });
  coYTicks.forEach(function (v) {
    var m = add(g, "line", { x1: 887, x2: 890.7, y1: y(v), y2: y(v), stroke: "#444", "stroke-width": 0.9 });
    
    
    var t = add(g, "text", { x: 885, y: y(v) + 4.5, "font-size": 12, "text-anchor": "end" }, minus(v.toFixed(1)));
    
    
  });
  var co = add(g, "text", { x: 908, y: 889, "font-size": 11 }, "CO(1-0)");
  
  
  var xl = add(g, "text", { x: 1027, y: 1155, "font-size": 12, "text-anchor": "middle", "font-style": "italic" });
  
  
  xl.appendChild(document.createTextNode("Velocity [km s"));
  add(xl, "tspan", { "font-size": 8.5, dy: -4 }, "\u22121");
  add(xl, "tspan", { dy: 4 }, "]");
  var yl = add(g, "text", { transform: "translate(850 990) rotate(-90)", "font-size": 12, "text-anchor": "middle", "font-style": "italic" });
  
  
  yl.appendChild(document.createTextNode("T"));
  add(yl, "tspan", { "font-size": 8.5, dy: 3 }, "mb");
  add(yl, "tspan", { dy: -3, "font-style": "normal" }, " [mK]");
})();

/* ---------- image decorations ---------- */
(function () {
  var hexes = byId("sdss-hexes");
  var hexCentres = [[832, 549], [740, 601], [925, 601], [740, 708], [925, 708], [832, 762]];
  hexCentres.forEach(function (c) {
    var r = 8, pts = [];
    for (var i = 0; i < 6; i++) pts.push((c[0] + r * Math.cos(i * Math.PI / 3)).toFixed(1) + "," + (c[1] + r * Math.sin(i * Math.PI / 3)).toFixed(1));
    var p = add(hexes, "polygon", { points: pts.join(" "), fill: "none", stroke: "#2e7d1e", "stroke-width": 1.1 });
    
    
  });
  for (var k = 0; k < 9; k++) {
    var tx = 696 + k * 34, ty = 519 + k * 34;
    [[tx, 503, tx, 507], [tx, 805, tx, 801], [680, ty, 684, ty], [983, ty, 979, ty]].forEach(function (q) {
      var m = add(hexes, "line", { x1: q[0], y1: q[1], x2: q[2], y2: q[3], stroke: "#8a8a8a", "stroke-width": 0.8 });
      
      
    });
  }
  var sdss = byId("sdss-stars");
  [[742, 664, 8, "star-white"], [913, 607, 5, "star-red"], [907, 617, 3, "star-red"], [777, 603, 4, "star-tan"], [838, 588, 6, "star-tan"], [812, 697, 5, "star-tan"], [862, 742, 5, "star-tan"], [945, 798, 4, "star-tan"], [717, 765, 4, "star-tan"], [768, 522, 4, "star-tan"], [748, 691, 3, "star-red"], [712, 697, 3, "star-blue"], [687, 708, 3, "star-tan"], [690, 611, 3, "star-tan"], [875, 682, 3, "star-tan"], [764, 688, 2.5, "star-blue"]].forEach(function (s) {
    var c = add(sdss, "circle", { cx: s[0], cy: s[1], r: s[2], fill: "url(#" + s[3] + ")" });
    
    
  });
  var deep = byId("deep-stars");
  [[638, 892, 17, "star-tan"], [537, 918, 9, "star-tan"], [770, 927, 10, "star-tan"], [758, 943, 7, "star-tan"], [477, 1025, 16, "star-white"], [595, 1081, 9, "star-tan"], [702, 1054, 8, "star-tan"], [517, 1067, 10, "star-blue"], [487, 1070, 7, "star-tan"], [716, 1028, 7, "star-tan"], [682, 1155, 11, "star-tan"], [507, 1106, 7, "star-blue"], [490, 1137, 7, "star-tan"], [547, 933, 5, "star-blue"], [672, 895, 9, "star-blue"], [583, 1072, 4, "star-blue"], [604, 1072, 4, "star-blue"], [570, 1064, 4, "star-blue"], [549, 1100, 5, "star-tan"], [592, 1106, 5, "star-blue"], [678, 1110, 6, "star-blue"], [724, 1080, 7, "star-blue"], [593, 937, 5, "star-tan"]].forEach(function (s) {
    var c = add(deep, "circle", { cx: s[0], cy: s[1], r: s[2], fill: "url(#" + s[3] + ")" });
    
    
  });
})();
</script>
</svg>
</body>
</html>
